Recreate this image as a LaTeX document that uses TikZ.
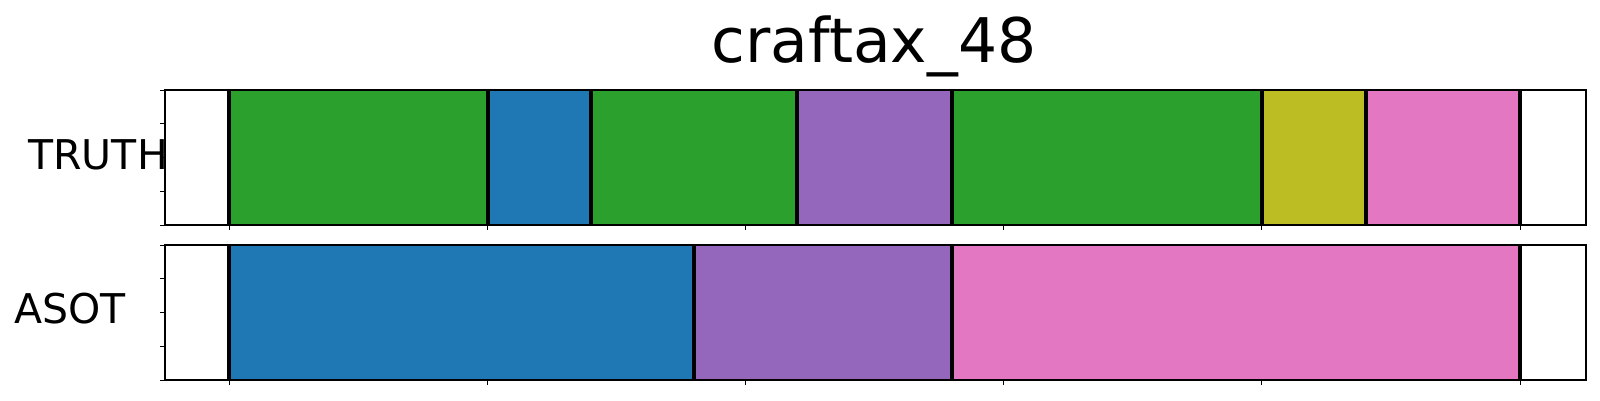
\documentclass[tikz,border=0pt]{standalone}
\usepackage{fontspec}
\setmainfont{DejaVu Sans}
\definecolor{tabgreen}{HTML}{2CA02C}
\definecolor{tabblue}{HTML}{1F77B4}
\definecolor{tabpurple}{HTML}{9467BD}
\definecolor{tabolive}{HTML}{BCBD22}
\definecolor{tabpink}{HTML}{E377C2}
\tikzset{
	frame/.style={line width=1.2pt},
	bound/.style={line width=4.2pt},
	tick/.style={line width=0.9pt},
	rowlabel/.style={anchor=base west,inner sep=0pt,font=\fontsize{41}{49}\selectfont}
}
\begin{document}
\begin{tikzpicture}[x=1pt,y=-1pt,thick]
		\useasboundingbox (0,0) rectangle (1600,400);
		\node [anchor=base,inner sep=0pt,font=\fontsize{61.5}{74}\selectfont] (title) at (874,62) {craftax\_48};
		% TRUTH row
		\foreach \a/\b/\c in {229/488/tabgreen,488/591/tabblue,591/797/tabgreen,797/952/tabpurple,
			952/1262/tabgreen,1262/1366/tabolive,1366/1520/tabpink}
		{
			\fill[\c] (\a,90) rectangle (\b,225);
		}
		\foreach \a in {229,488,591,797,952,1262,1366,1520}
		{
			\draw[bound] (\a,90)--(\a,225);
		}
		% ASOT row
		\foreach \a/\b/\c in {229/694/tabblue,694/952/tabpurple,952/1520/tabpink}
		{
			\fill[\c] (\a,245) rectangle (\b,380);
		}
		\foreach \a in {229,694,952,1520}
		{
			\draw[bound] (\a,245)--(\a,380);
		}
		% axes
		\foreach \y in {90,245}
		{
			\draw[frame] (165,\y) rectangle (1586,\y+135);
			\foreach \t in {0,...,4}
			{
				\draw[tick] (165,\y+\t*33.75)--++(-5,0);
			}
			\foreach \t in {0,...,5}
			{
				\draw[tick] (229+\t*258.2,\y+135)--++(0,5);
			}
		}
		\node [rowlabel] (truth) at (28,169) {TRUTH};
		\node [rowlabel] (asot) at (14,323) {ASOT};
	\end{tikzpicture}
\end{document}
